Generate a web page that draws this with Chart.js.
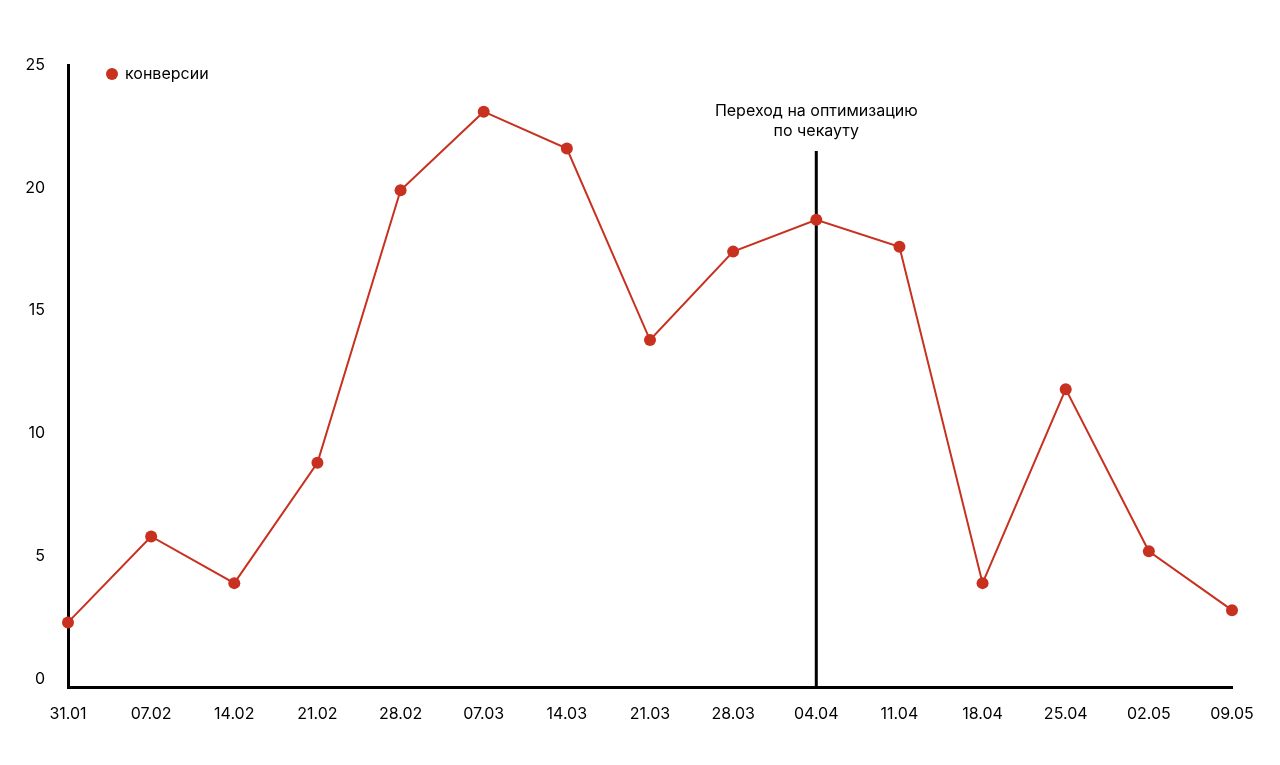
<!DOCTYPE html>
<html>
<head>
<meta charset="utf-8">
<script src="https://cdn.jsdelivr.net/npm/chart.js@4/dist/chart.umd.min.js"></script>
<style>
  html, body { margin: 0; padding: 0; background: #fff; }
  #wrap { width: 1280px; height: 765px; }
</style>
</head>
<body>
<div id="wrap"><canvas id="myChart" width="1280" height="765"></canvas></div>
<script>
'use strict';

// data
const weeks = ['31.01', '07.02', '14.02', '21.02', '28.02', '07.03', '14.03', '21.03',
  '28.03', '04.04', '11.04', '18.04', '25.04', '02.05', '09.05'];
const conversions = [2.3, 5.8, 3.9, 8.8, 19.9, 23.1, 21.6, 13.8, 17.4, 18.7, 17.6, 3.9, 11.8, 5.2, 2.8];
const yTicks = [0, 5, 10, 15, 20, 25];
const seriesName = 'конверсии';
const markerWeek = '04.04';
const markerTop = 21.5;
const markerText = ['Переход на оптимизацию', 'по чекауту'];

const red = '#c8301f';
const font = 'Inter, "Noto Sans", sans-serif';

// vertical marker line + its caption, drawn under the series
const markerPlugin = {
  id: 'marker',
  beforeDatasetsDraw(chart) {
    const ctx = chart.ctx;
    const x = chart.scales.x.getPixelForValue(weeks.indexOf(markerWeek));
    const yTop = chart.scales.y.getPixelForValue(markerTop);
    const yBottom = chart.chartArea.bottom;
    ctx.save();
    ctx.strokeStyle = '#000';
    ctx.lineWidth = 3;
    ctx.beginPath();
    ctx.moveTo(x, yTop);
    ctx.lineTo(x, yBottom);
    ctx.stroke();
    ctx.fillStyle = '#000';
    ctx.font = '16px ' + font;
    ctx.textAlign = 'center';
    ctx.textBaseline = 'middle';
    ctx.fillText(markerText[0], x, yTop - 40);
    ctx.fillText(markerText[1], x, yTop - 20);
    ctx.restore();
  }
};

// legend sitting inside the plot, top left
const legendPlugin = {
  id: 'innerLegend',
  afterDraw(chart) {
    const ctx = chart.ctx;
    const ds = chart.data.datasets[0];
    const x = chart.chartArea.left + 44;
    const y = chart.chartArea.top + 9;
    ctx.save();
    ctx.fillStyle = ds.pointBackgroundColor;
    ctx.beginPath();
    ctx.arc(x, y, 6, 0, Math.PI * 2);
    ctx.fill();
    ctx.fillStyle = '#000';
    ctx.font = '16px ' + font;
    ctx.textAlign = 'left';
    ctx.textBaseline = 'middle';
    ctx.fillText(ds.label, x + 13, y);
    ctx.restore();
  }
};

const chart = document.getElementById('myChart');
const myChart = new Chart(chart, {
  type: 'line',
  data: {
    labels: weeks,
    datasets: [{
      label: seriesName,
      data: conversions,
      borderColor: red,
      backgroundColor: red,
      pointBackgroundColor: red,
      pointBorderWidth: 0,
      pointRadius: 6,
      borderWidth: 2,
      tension: 0,
      clip: false,
    }],
  },
  options: {
    responsive: false,
    animation: false,
    layout: { padding: { top: 65, right: 48, left: 0, bottom: 0 } },
    plugins: {
      legend: { display: false },
      tooltip: { enabled: false },
    },
    scales: {
      x: {
        offset: false,
        grid: { drawOnChartArea: false, drawTicks: false },
        border: { display: true, color: '#000', width: 3 },
        ticks: {
          color: '#000',
          font: { family: font, size: 16 },
          padding: 18,
          maxRotation: 0,
          autoSkip: false,
        },
        afterFit(scale) { scale.height = 78; },
      },
      y: {
        min: -0.33,
        max: 25,
        grid: { drawOnChartArea: false, drawTicks: false },
        border: { display: true, color: '#000', width: 3 },
        ticks: {
          color: '#000',
          font: { family: font, size: 16 },
          padding: 23,
        },
        afterBuildTicks(scale) {
          scale.ticks = yTicks.map(v => ({ value: v }));
        },
        afterFit(scale) { scale.width = 68; },
      },
    },
  },
  plugins: [markerPlugin, legendPlugin],
});
</script>
</body>
</html>
